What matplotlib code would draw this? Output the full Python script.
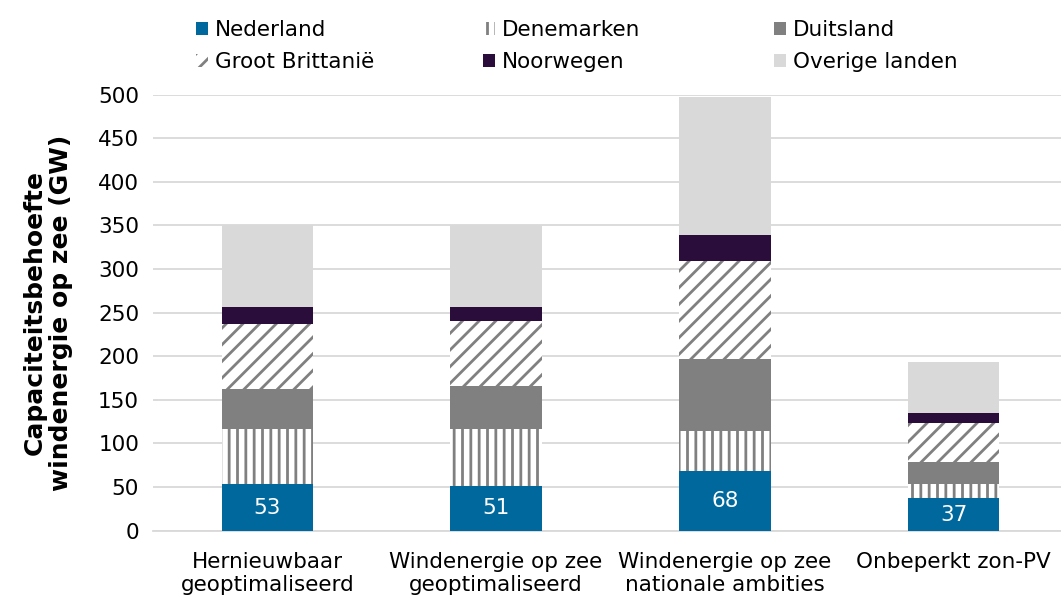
import numpy as np
import matplotlib
matplotlib.use("Agg")
import matplotlib.pyplot as plt

plt.rcParams['font.family'] = ['DejaVu Sans']
plt.rcParams['hatch.linewidth'] = 2.0

categories = ['Hernieuwbaar\ngeoptimaliseerd', 'Windenergie op zee\ngeoptimaliseerd',
              'Windenergie op zee\nnationale ambities', 'Onbeperkt zon-PV']
nederland = [53, 51, 68, 37]
denemarken = [64, 66, 46, 17]
duitsland = [45, 49, 83, 25]
groot_brittannie = [75, 74, 112, 44]
noorwegen = [20, 17, 30, 12]
overige = [93, 93, 158, 58]

series = [
    ('Nederland', nederland, dict(color='#00689C')),
    ('Denemarken', denemarken, dict(color='white', edgecolor='#808080', hatch='||')),
    ('Duitsland', duitsland, dict(color='#808080')),
    ('Groot Brittanië', groot_brittannie, dict(color='white', edgecolor='#808080', hatch='//')),
    ('Noorwegen', noorwegen, dict(color='#2A0D3A')),
    ('Overige landen', overige, dict(color='#D9D9D9')),
]

fs = 15.5

fig = plt.figure(figsize=(10.61, 5.99), dpi=100)
ax = fig.add_axes([0.1442, 0.114, 0.8624, 0.728])

x = np.arange(len(categories))
bottom = np.zeros(len(categories))
handles = []
for name, vals, style in series:
    b = ax.bar(x, vals, 0.40, bottom=bottom, label=name, linewidth=0, zorder=3, **style)
    handles.append(b)
    bottom += np.array(vals)

# labels in the Nederland segment
for xi, v in zip(x, nederland):
    ax.text(xi, v / 2, str(v), ha='center', va='center', color='white', fontsize=fs, zorder=4)

ax.set_ylim(0, 500)
ax.set_xlim(-0.5, len(categories) - 0.5)
ax.set_yticks(range(0, 501, 50))
ax.set_xticks(x)
ax.set_xticklabels(categories, fontsize=fs, linespacing=1.2)
ax.tick_params(axis='y', labelsize=fs, length=0, pad=10)
ax.tick_params(axis='x', length=0, pad=15)
ax.yaxis.grid(True, color='#D9D9D9', linewidth=1.3, zorder=0)
ax.set_axisbelow(True)
for s in ['top', 'right', 'left']:
    ax.spines[s].set_visible(False)
ax.spines['bottom'].set_color('#D9D9D9')
ax.spines['bottom'].set_linewidth(1.3)

ax.set_ylabel('Capaciteitsbehoefte\nwindenergie op zee (GW)', fontsize=18,
              fontweight='bold', linespacing=1.15)
ax.yaxis.set_label_coords(-0.087, 0.5)

# legend: three columns, filled row by row
col_x = [0.1847, 0.455, 0.7295]
for i, cx in enumerate(col_x):
    idx = [i, i + 3]
    fig.legend(handles=[handles[j] for j in idx], labels=[series[j][0] for j in idx],
               loc='upper left', bbox_to_anchor=(cx, 0.966), frameon=False,
               fontsize=fs, handlelength=0.55, handleheight=0.55, handletextpad=0.35,
               labelspacing=0.55, borderpad=0, borderaxespad=0)

fig.savefig('out.png', dpi=100)
